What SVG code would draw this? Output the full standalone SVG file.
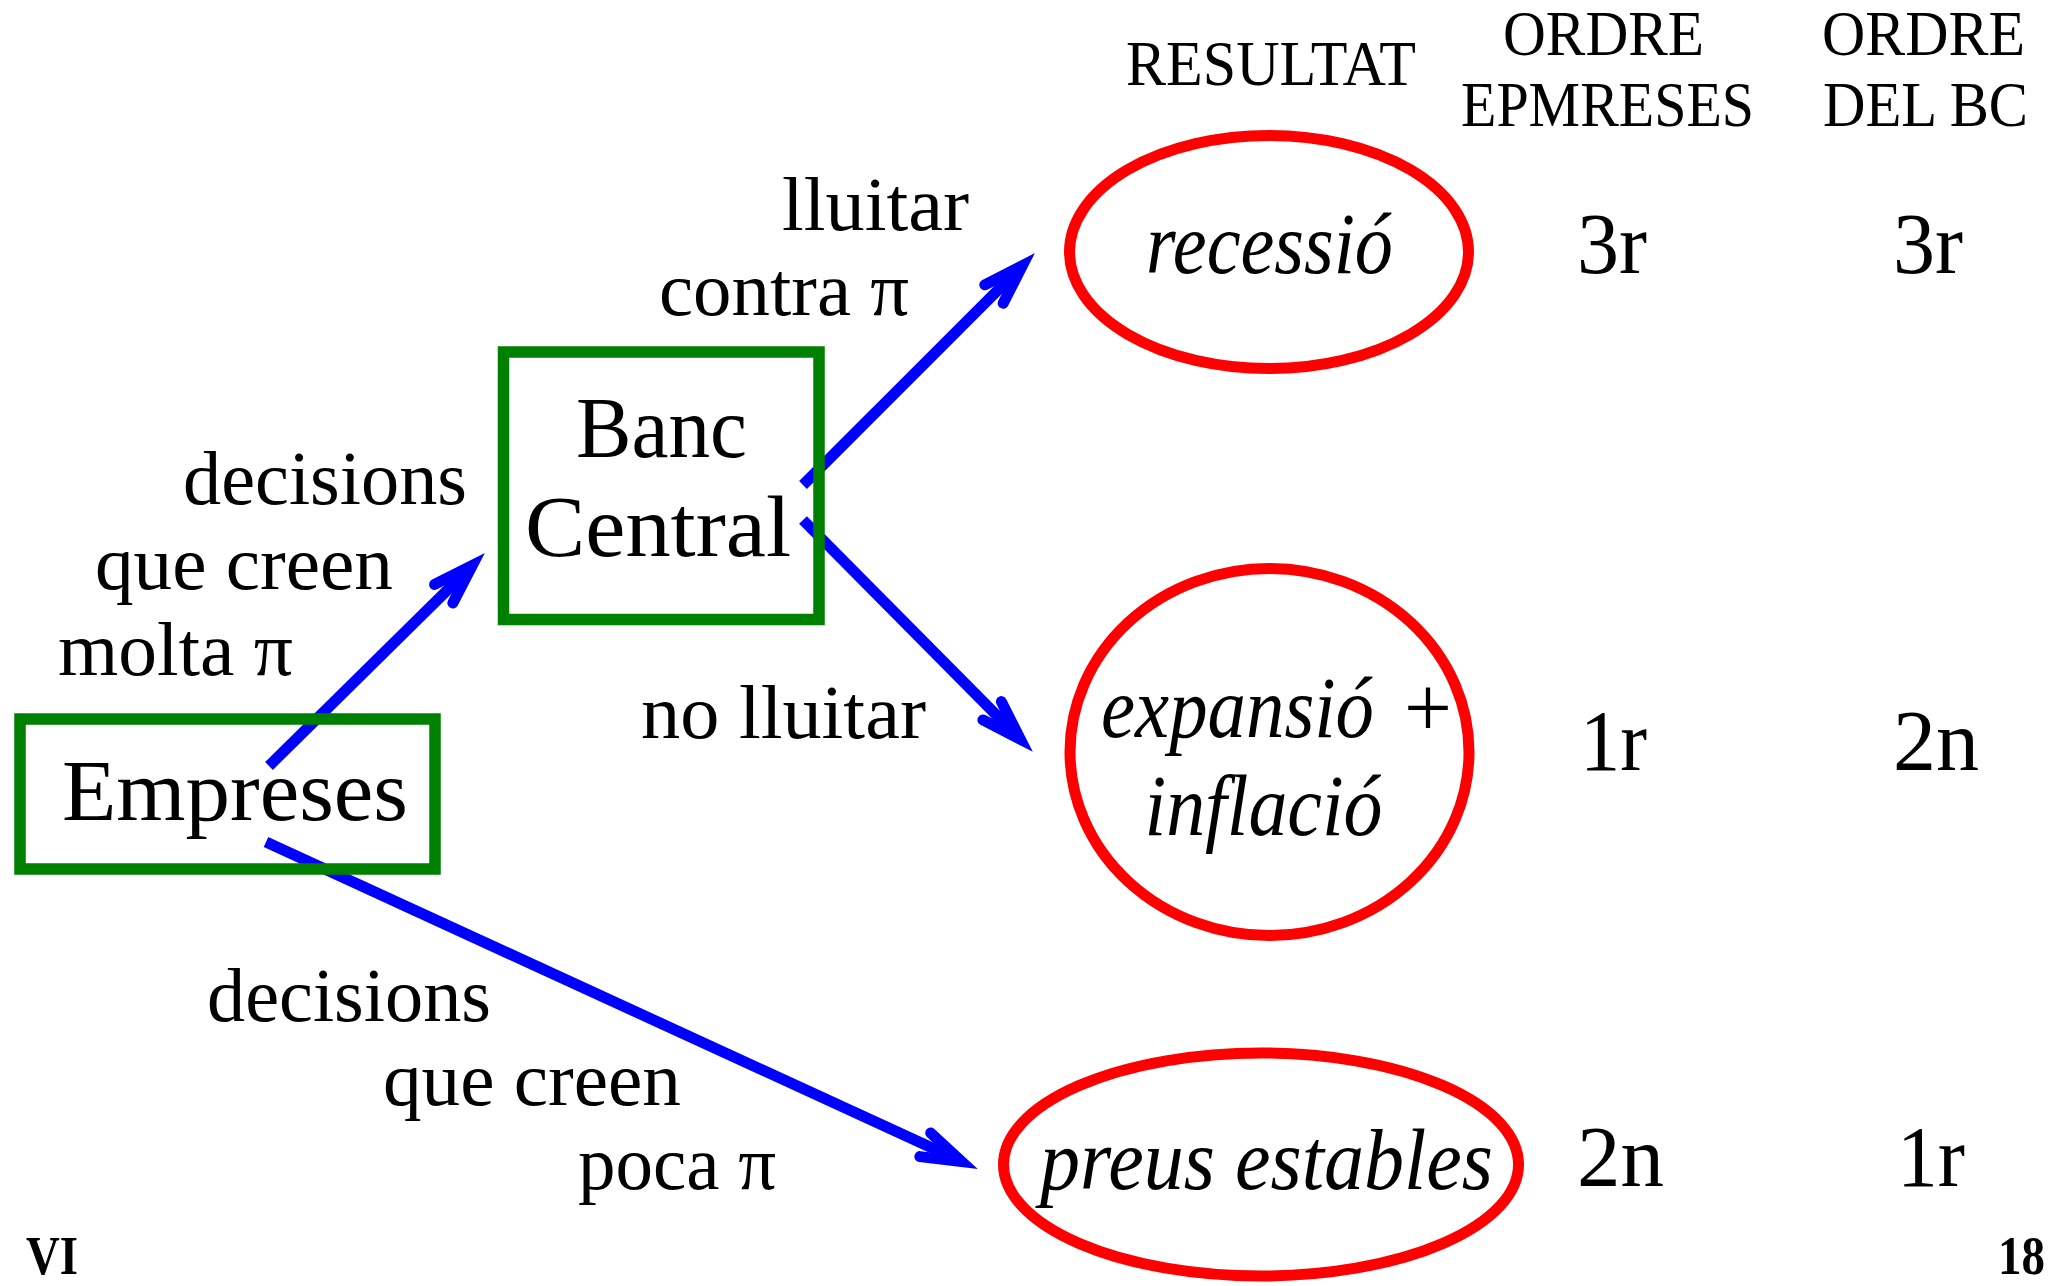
<svg xmlns="http://www.w3.org/2000/svg" width="2051" height="1286" viewBox="0 0 2051 1286">
<defs>
<style>
text{font-family:"Liberation Serif","Times New Roman",serif;fill:#000}
.lab{font-size:76px}
.node{font-size:86px}
.hdr{font-size:63px}
.res{font-size:86px}
.it{font-style:italic}
.pg{font-size:54px;font-weight:bold}
.box{fill:none;stroke:#008000;stroke-width:11.5}
.ell{fill:none;stroke:#ff0000;stroke-width:11}
.arr{fill:none;stroke:#0000ff;stroke-width:11;stroke-linecap:butt}
</style>
<marker id="ah" markerUnits="userSpaceOnUse" orient="auto" overflow="visible" markerWidth="10" markerHeight="10" refX="0" refY="0">
<path d="M-40,-13 L0,0 L-40,13" fill="none" stroke="#0000ff" stroke-width="11" stroke-linecap="round" stroke-linejoin="miter" stroke-miterlimit="6"/>
</marker>
</defs>
<rect width="2051" height="1286" fill="#fff"/>

<g id="headers">
<text class="hdr" x="1126" y="85" textLength="290" lengthAdjust="spacingAndGlyphs">RESULTAT</text>
<text class="hdr" x="1503" y="55" textLength="201" lengthAdjust="spacingAndGlyphs">ORDRE</text>
<text class="hdr" x="1461" y="126" textLength="293" lengthAdjust="spacingAndGlyphs">EPMRESES</text>
<text class="hdr" x="1822" y="55" textLength="203" lengthAdjust="spacingAndGlyphs">ORDRE</text>
<text class="hdr" x="1823" y="126" textLength="205" lengthAdjust="spacingAndGlyphs">DEL BC</text>
</g>

<g id="connectors">
<line class="arr" x1="269" y1="766" x2="472.2" y2="565.6" marker-end="url(#ah)"/>
<line class="arr" x1="803" y1="485" x2="1022.3" y2="265.7" marker-end="url(#ah)"/>
<line class="arr" x1="803" y1="520" x2="1020.3" y2="739.2" marker-end="url(#ah)"/>
<line class="arr" x1="266" y1="842" x2="961.6" y2="1161.5" marker-end="url(#ah)"/>
</g>

<g id="edge-labels">
<text class="lab" x="183" y="504" textLength="284" lengthAdjust="spacingAndGlyphs">decisions</text>
<text class="lab" x="95" y="589" textLength="298" lengthAdjust="spacingAndGlyphs">que creen</text>
<text class="lab" x="58" y="675" textLength="235" lengthAdjust="spacingAndGlyphs">molta π</text>
<text class="lab" x="782" y="230" textLength="187" lengthAdjust="spacingAndGlyphs">lluitar</text>
<text class="lab" x="659" y="315" textLength="250" lengthAdjust="spacingAndGlyphs">contra π</text>
<text class="lab" x="641" y="738" textLength="285" lengthAdjust="spacingAndGlyphs">no lluitar</text>
<text class="lab" x="207" y="1021" textLength="284" lengthAdjust="spacingAndGlyphs">decisions</text>
<text class="lab" x="383" y="1105" textLength="298" lengthAdjust="spacingAndGlyphs">que creen</text>
<text class="lab" x="578" y="1189" textLength="198" lengthAdjust="spacingAndGlyphs">poca π</text>
</g>

<g id="empreses">
<rect class="box" x="20" y="719" width="415" height="150"/>
<text class="node" x="62" y="820" textLength="346" lengthAdjust="spacingAndGlyphs">Empreses</text>
</g>

<g id="banc-central">
<rect class="box" x="503.5" y="352" width="315.5" height="267.5"/>
<text class="node" x="576" y="457" textLength="171" lengthAdjust="spacingAndGlyphs">Banc</text>
<text class="node" x="525" y="556" textLength="266" lengthAdjust="spacingAndGlyphs">Central</text>
</g>

<g id="recessio">
<ellipse class="ell" cx="1269" cy="252" rx="199.5" ry="116.5"/>
<text class="res it" x="1146" y="273" textLength="247" lengthAdjust="spacingAndGlyphs">recessió</text>
<text class="res" x="1577" y="273" textLength="70" lengthAdjust="spacingAndGlyphs">3r</text>
<text class="res" x="1893" y="273" textLength="70" lengthAdjust="spacingAndGlyphs">3r</text>
</g>

<g id="expansio">
<ellipse class="ell" cx="1269.5" cy="752" rx="199.5" ry="183.5"/>
<text class="res it" x="1101" y="737" textLength="273" lengthAdjust="spacingAndGlyphs">expansió</text>
<text class="res" x="1404" y="737" textLength="48" lengthAdjust="spacingAndGlyphs">+</text>
<text class="res it" x="1144.5" y="835" textLength="238" lengthAdjust="spacingAndGlyphs">inflació</text>
<text class="res" x="1580" y="770" textLength="67" lengthAdjust="spacingAndGlyphs">1r</text>
<text class="res" x="1893" y="770" textLength="86" lengthAdjust="spacingAndGlyphs">2n</text>
</g>

<g id="preus-estables">
<ellipse class="ell" cx="1261" cy="1164.5" rx="257.5" ry="111.5"/>
<text class="res it" x="1040" y="1189" textLength="453" lengthAdjust="spacingAndGlyphs">preus estables</text>
<text class="res" x="1577" y="1186" textLength="87" lengthAdjust="spacingAndGlyphs">2n</text>
<text class="res" x="1897" y="1186" textLength="68" lengthAdjust="spacingAndGlyphs">1r</text>
</g>

<g id="footer">
<text class="pg" x="26" y="1274" textLength="52" lengthAdjust="spacingAndGlyphs">VI</text>
<text class="pg" x="1998" y="1274" textLength="47" lengthAdjust="spacingAndGlyphs">18</text>
</g>
</svg>
